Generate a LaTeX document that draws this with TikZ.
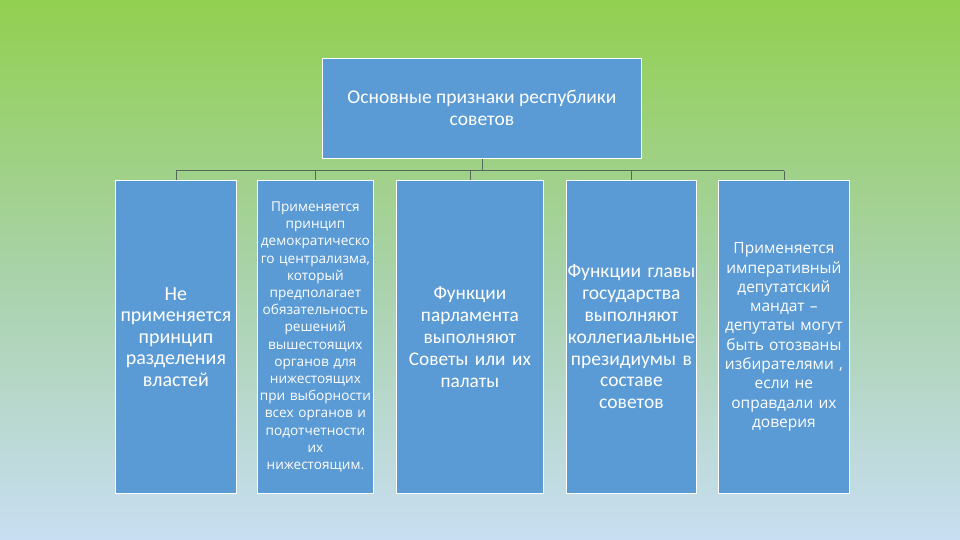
\documentclass[tikz,border=0pt]{standalone}
\usepackage{fontspec}
\setmainfont{Carlito}
\newfontfamily\candfont{Open Sans}
\usetikzlibrary{positioning}
\definecolor{boxblue}{RGB}{91,155,213}
\definecolor{linegray}{RGB}{85,105,90}
\definecolor{bgtop}{RGB}{146,208,80}
\definecolor{bgmid}{RGB}{168,210,168}
\definecolor{bgbot}{RGB}{200,222,242}
\tikzset{
  blbox/.style={draw=white, line width=0.8pt, fill=boxblue, text=white,
    align=center, inner xsep=0pt, inner ysep=2pt, anchor=north west},
  conn/.style={draw=linegray, line width=0.6pt}
}
\begin{document}
\begin{tikzpicture}[x=1pt,y=-1pt]
  \shade[top color=bgtop, bottom color=bgbot, middle color=bgmid] (0,0) rectangle (960,540);
  \useasboundingbox (0,0) rectangle (960,540);
  % top box
  \node[blbox, minimum width=319pt, minimum height=100pt, font=\fontsize{19.5}{22}\selectfont]
    (main) at (322,58) {Основные признаки республики\\советов};
  % children
  \node[blbox, minimum width=121pt, minimum height=313pt, font=\fontsize{20}{21.5}\selectfont, text width=121pt]
    (c1) at (115,180) {Не\\применяется\\принцип\\разделения\\властей};
  \node[blbox, minimum width=116pt, minimum height=313pt, font=\candfont\fontsize{13.6}{17.2}\selectfont, text width=116pt]
    (c2) at (257,180) {Применяется\\принцип\\демократическо\\го централизма,\\который\\предполагает\\обязательность\\решений\\вышестоящих\\органов для\\нижестоящих\\при выборности\\всех органов и\\подотчетности\\их\\нижестоящим.};
  \node[blbox, minimum width=147pt, minimum height=313pt, font=\fontsize{19.3}{22}\selectfont, text width=147pt]
    (c3) at (396,180) {Функции\\парламента\\выполняют\\Советы или их\\палаты};
  \node[blbox, minimum width=130pt, minimum height=313pt, font=\fontsize{19.5}{21.8}\selectfont, text width=130pt]
    (c4) at (566,180) {Функции главы\\государства\\выполняют\\коллегиальные\\президиумы в\\составе\\советов};
  \node[blbox, minimum width=131pt, minimum height=313pt, font=\candfont\fontsize{15.5}{19.3}\selectfont, text width=131pt]
    (c5) at (718,180) {Применяется\\императивный\\депутатский\\мандат –\\депутаты могут\\быть отозваны\\избирателями ,\\если не\\оправдали их\\доверия};
  % connectors
  \coordinate (bus) at ([yshift=-12pt]main.south);
  \draw[conn] (main.south) -- (bus);
  \draw[conn] (c1.north |- bus) -- (c5.north |- bus);
  \foreach \c in {c1,c2,c3,c4,c5}
    \draw[conn] (\c.north |- bus) -- (\c.north);
\end{tikzpicture}
\end{document}
